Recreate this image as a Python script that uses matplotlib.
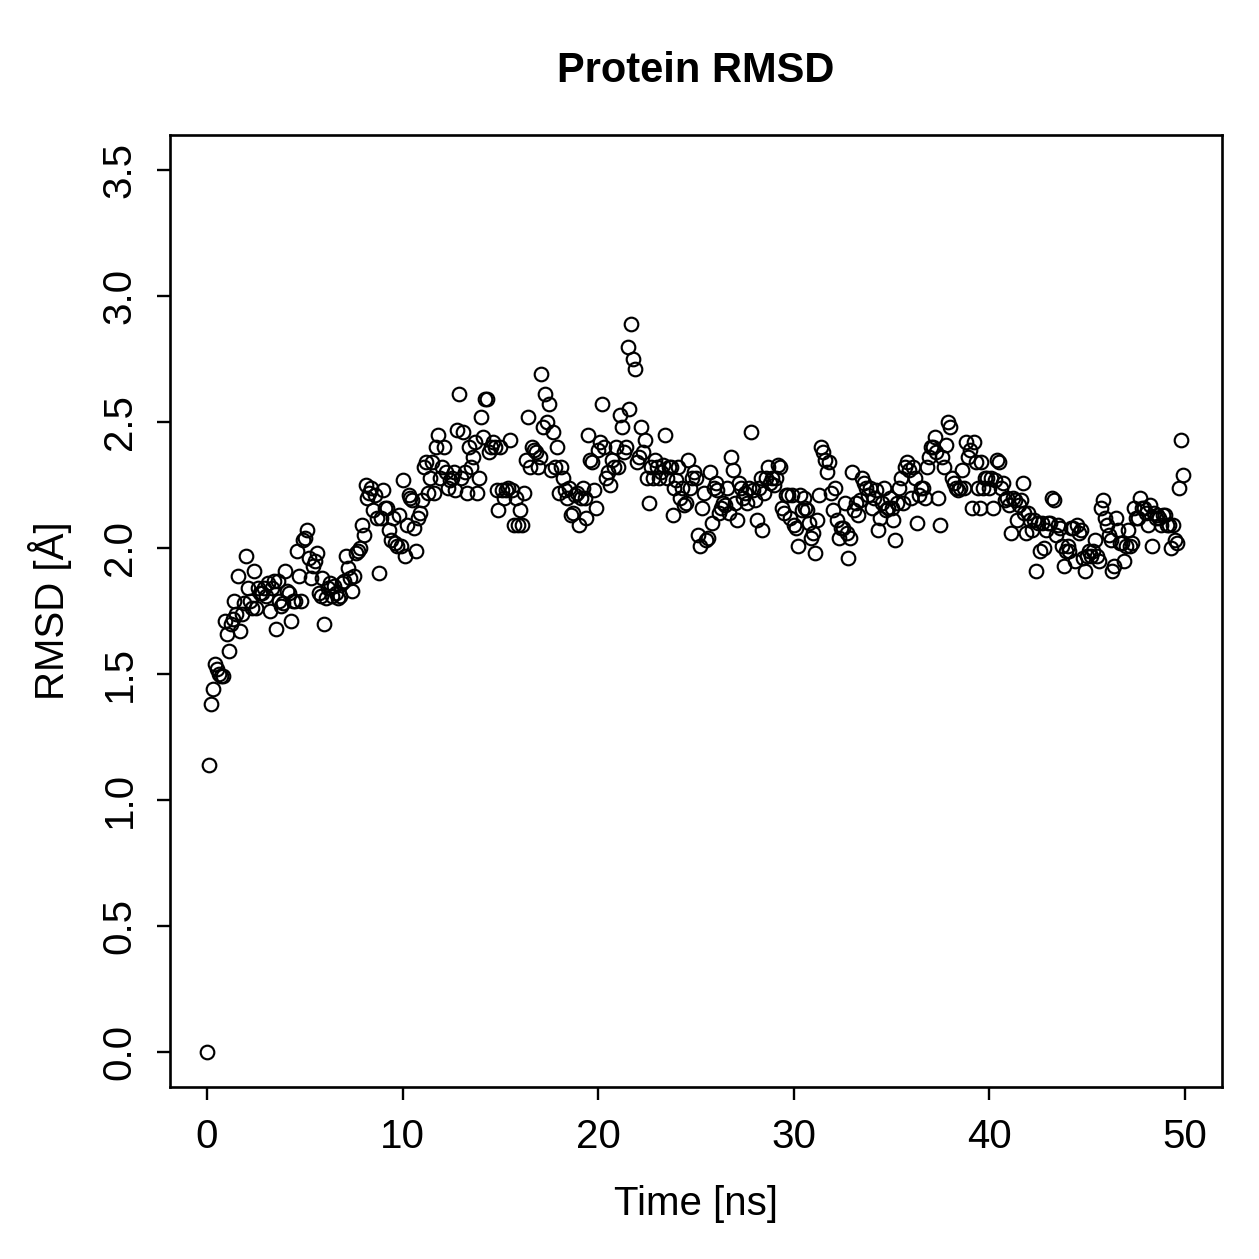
"""
Protein RMSD scatter plot over a 50 ns trajectory, drawn in the style of
an R base-graphics plot (open circles, boxed axes, rotated y tick labels).

Output file:
- out.png
"""

import matplotlib

matplotlib.use("Agg")

import matplotlib.pyplot as plt
import numpy as np


# 1. Data, one frame every 0.1 ns (10 per row)

TIME_STEP_NS = 0.1

rmsd_00_10 = [
    0.00, 1.14, 1.38, 1.44, 1.54, 1.52, 1.50, 1.49, 1.49, 1.71,
    1.66, 1.59, 1.70, 1.72, 1.79, 1.74, 1.89, 1.67, 1.74, 1.78,
    1.97, 1.84, 1.79, 1.76, 1.91, 1.76, 1.84, 1.82, 1.82, 1.84,
    1.81, 1.86, 1.75, 1.84, 1.87, 1.68, 1.87, 1.79, 1.77, 1.78,
    1.91, 1.83, 1.82, 1.71, 1.79, 1.79, 1.99, 1.89, 1.79, 2.03,
    2.04, 2.07, 1.96, 1.88, 1.93, 1.95, 1.98, 1.82, 1.81, 1.88,
    1.70, 1.80, 1.84, 1.86, 1.81, 1.85, 1.82, 1.80, 1.81, 1.86,
    1.87, 1.97, 1.92, 1.88, 1.83, 1.89, 1.98, 1.99, 2.00, 2.09,
    2.05, 2.25, 2.20, 2.22, 2.24, 2.15, 2.21, 2.12, 1.90, 2.12,
    2.23, 2.16, 2.16, 2.07, 2.03, 2.12, 2.02, 2.01, 2.13, 2.01,
]

rmsd_10_20 = [
    2.27, 1.97, 2.09, 2.21, 2.20, 2.19, 2.08, 1.99, 2.12, 2.14,
    2.19, 2.32, 2.34, 2.22, 2.28, 2.34, 2.22, 2.40, 2.45, 2.28,
    2.32, 2.40, 2.30, 2.24, 2.27, 2.28, 2.30, 2.23, 2.47, 2.61,
    2.28, 2.46, 2.30, 2.22, 2.40, 2.32, 2.36, 2.42, 2.22, 2.28,
    2.52, 2.44, 2.59, 2.59, 2.38, 2.40, 2.42, 2.40, 2.23, 2.15,
    2.40, 2.23, 2.20, 2.23, 2.24, 2.43, 2.23, 2.09, 2.20, 2.09,
    2.15, 2.09, 2.22, 2.35, 2.52, 2.32, 2.40, 2.39, 2.38, 2.32,
    2.36, 2.69, 2.48, 2.61, 2.50, 2.57, 2.31, 2.46, 2.32, 2.40,
    2.22, 2.32, 2.28, 2.23, 2.20, 2.24, 2.13, 2.14, 2.21, 2.22,
    2.09, 2.20, 2.24, 2.20, 2.12, 2.45, 2.35, 2.34, 2.23, 2.16,
]

rmsd_20_30 = [
    2.39, 2.42, 2.57, 2.40, 2.28, 2.30, 2.25, 2.35, 2.32, 2.40,
    2.32, 2.53, 2.48, 2.38, 2.40, 2.80, 2.55, 2.89, 2.75, 2.71,
    2.34, 2.36, 2.48, 2.38, 2.43, 2.28, 2.18, 2.32, 2.28, 2.35,
    2.32, 2.28, 2.30, 2.33, 2.45, 2.28, 2.32, 2.32, 2.13, 2.24,
    2.27, 2.32, 2.20, 2.24, 2.17, 2.18, 2.35, 2.24, 2.28, 2.30,
    2.28, 2.05, 2.01, 2.16, 2.22, 2.03, 2.04, 2.30, 2.10, 2.24,
    2.26, 2.23, 2.14, 2.16, 2.18, 2.17, 2.24, 2.14, 2.36, 2.31,
    2.18, 2.11, 2.26, 2.24, 2.20, 2.22, 2.18, 2.24, 2.46, 2.23,
    2.19, 2.11, 2.24, 2.28, 2.07, 2.22, 2.28, 2.32, 2.26, 2.28,
    2.25, 2.28, 2.33, 2.32, 2.16, 2.14, 2.21, 2.21, 2.12, 2.21,
]

rmsd_30_40 = [
    2.09, 2.08, 2.01, 2.21, 2.15, 2.20, 2.16, 2.15, 2.10, 2.04,
    2.06, 1.98, 2.11, 2.21, 2.40, 2.38, 2.35, 2.30, 2.34, 2.22,
    2.15, 2.24, 2.11, 2.04, 2.08, 2.08, 2.18, 2.06, 1.96, 2.04,
    2.30, 2.15, 2.18, 2.13, 2.19, 2.28, 2.26, 2.24, 2.21, 2.24,
    2.16, 2.20, 2.23, 2.07, 2.12, 2.18, 2.24, 2.15, 2.16, 2.20,
    2.16, 2.11, 2.03, 2.18, 2.24, 2.28, 2.18, 2.32, 2.34, 2.31,
    2.20, 2.32, 2.28, 2.10, 2.21, 2.24, 2.24, 2.20, 2.32, 2.36,
    2.40, 2.40, 2.44, 2.38, 2.20, 2.09, 2.36, 2.32, 2.41, 2.50,
    2.48, 2.28, 2.26, 2.24, 2.23, 2.24, 2.31, 2.24, 2.42, 2.36,
    2.39, 2.16, 2.42, 2.34, 2.24, 2.16, 2.34, 2.24, 2.28, 2.28,
]

rmsd_40_50 = [
    2.24, 2.28, 2.16, 2.27, 2.35, 2.34, 2.24, 2.26, 2.19, 2.20,
    2.17, 2.06, 2.20, 2.19, 2.11, 2.17, 2.19, 2.26, 2.14, 2.06,
    2.14, 2.11, 2.07, 2.11, 1.91, 2.10, 1.99, 2.10, 2.00, 2.07,
    2.10, 2.10, 2.20, 2.19, 2.05, 2.09, 2.08, 2.01, 1.93, 1.99,
    2.01, 1.99, 2.08, 2.08, 1.95, 2.09, 2.06, 2.07, 1.96, 1.91,
    1.97, 1.99, 1.97, 1.99, 2.03, 1.97, 1.95, 2.16, 2.19, 2.12,
    2.09, 2.05, 2.03, 1.91, 1.93, 2.12, 2.07, 2.02, 2.02, 1.95,
    2.01, 2.07, 2.01, 2.02, 2.16, 2.12, 2.12, 2.20, 2.16, 2.16,
    2.14, 2.09, 2.17, 2.01, 2.14, 2.12, 2.13, 2.12, 2.09, 2.13,
    2.13, 2.09, 2.09, 2.00, 2.09, 2.03, 2.02, 2.24, 2.43, 2.29,
]

rmsd = np.array(
    rmsd_00_10 + rmsd_10_20 + rmsd_20_30 + rmsd_30_40 + rmsd_40_50
)

time_ns = np.arange(len(rmsd)) * TIME_STEP_NS

x_ticks = [0, 10, 20, 30, 40, 50]
y_ticks = [0.0, 0.5, 1.0, 1.5, 2.0, 2.5, 3.0, 3.5]
y_tick_labels = ["0.0", "0.5", "1.0", "1.5", "2.0", "2.5", "3.0", "3.5"]


# 2. Figure setup

plt.rcParams["font.family"] = ["Liberation Sans", "DejaVu Sans"]

fig = plt.figure(figsize=(12.59, 12.59), dpi=100)

ax = fig.add_axes([0.135, 0.1366, 0.8356, 0.7562])


# 3. Draw points

ax.plot(
    time_ns,
    rmsd,
    linestyle="none",
    marker="o",
    markersize=9.8,
    markerfacecolor="none",
    markeredgecolor="black",
    markeredgewidth=1.55
)


# 4. Axes styling

ax.set_xlim(-1.9, 51.9)
ax.set_ylim(-0.14, 3.64)

ax.set_xticks(x_ticks)
ax.set_yticks(y_ticks)
ax.set_yticklabels(
    y_tick_labels,
    rotation=90,
    va="center"
)

ax.tick_params(
    axis="both",
    direction="out",
    length=9.5,
    width=1.7,
    labelsize=29,
    pad=13
)

for spine in ax.spines.values():
    spine.set_linewidth(1.9)

ax.set_xlabel("Time [ns]", fontsize=29, labelpad=21)
ax.set_ylabel("RMSD [Å]", fontsize=29, labelpad=21)

fig.text(
    0.5523,
    0.944,
    "Protein RMSD",
    ha="center",
    va="center",
    fontsize=30,
    fontweight="bold"
)


# 5. Save

fig.savefig("out.png", dpi=100)
plt.close(fig)

print("Saved plot to: out.png")
